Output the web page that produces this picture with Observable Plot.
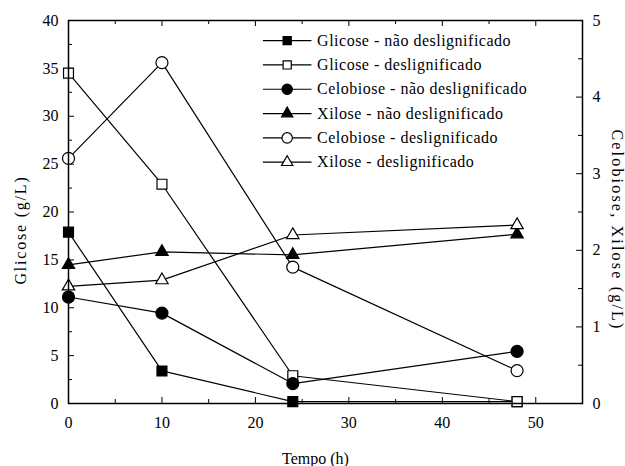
<!DOCTYPE html>
<html><head><meta charset="utf-8">
<script src="https://cdn.jsdelivr.net/npm/d3@7"></script>
<script src="https://cdn.jsdelivr.net/npm/@observablehq/plot@0.6"></script>
<style>
body{margin:0;background:#fff}
</style>
</head><body><div id="chart"></div>
<script>
// ---- data ----
const tempo = [0, 10, 24, 48];                       // Tempo (h)
const glicoseNaoDeslig   = [17.9, 3.4, 0.2, 0.2];    // left axis, g/L
const glicoseDeslig      = [34.5, 22.9, 2.9, 0.2];   // left axis, g/L
const celobioseNaoDeslig = [1.39, 1.18, 0.26, 0.68]; // right axis, g/L
const xiloseNaoDeslig    = [1.81, 1.98, 1.94, 2.21]; // right axis, g/L
const celobioseDeslig    = [3.20, 4.45, 1.78, 0.43]; // right axis, g/L
const xiloseDeslig       = [1.53, 1.61, 2.20, 2.33]; // right axis, g/L
const seriesNames = [
  "Glicose - não deslignificado",
  "Glicose - deslignificado",
  "Celobiose - não deslignificado",
  "Xilose - não deslignificado",
  "Celobiose - deslignificado",
  "Xilose - deslignificado"
];
const xTicks = [0, 10, 20, 30, 40, 50];
const leftTicks = [0, 5, 10, 15, 20, 25, 30, 35, 40];
const rightTicks = [0, 1, 2, 3, 4, 5];
const xLabel = "Tempo (h)";
const yLeftLabel = "Glicose (g/L)";
const yRightLabel = "Celobiose, Xilose (g/L)";

// ---- build ----
const FONT = "Liberation Serif";
const RATIO = 40 / 5; // right axis 5 ↔ left axis 40
const series = [
  {name: seriesNames[0], values: glicoseNaoDeslig, axis: "left", symbol: "square", fill: "black"},
  {name: seriesNames[1], values: glicoseDeslig, axis: "left", symbol: "square", fill: "white"},
  {name: seriesNames[2], values: celobioseNaoDeslig, axis: "right", symbol: "circle", fill: "black"},
  {name: seriesNames[3], values: xiloseNaoDeslig, axis: "right", symbol: "triangle", fill: "black"},
  {name: seriesNames[4], values: celobioseDeslig, axis: "right", symbol: "circle", fill: "white"},
  {name: seriesNames[5], values: xiloseDeslig, axis: "right", symbol: "triangle", fill: "white"}
];
const rows = series.flatMap(s => s.values.map((v, i) => ({
  serie: s.name, x: tempo[i], y: s.axis === "right" ? v * RATIO : v
})));

const W = 625, H = 466, mL = 68, mR = 43, mT = 20, mB = 63;
const pw = W - mL - mR, ph = H - mT - mB;
const xMinor = d3.range(5, 55, 10);
const leftMinor = d3.range(2.5, 40, 5);
const rightMajorL = rightTicks.map(v => v * RATIO);
const rightMinorL = d3.range(0.5, 5, 1).map(v => v * RATIO);

// legend layout (data units)
const legX1 = 20.8, legX2 = 26.0, legXm = 23.4, legXt = 26.6;
const legY0 = 37.9, legStep = 2.54;
const legend = series.map((s, i) => ({...s, y: legY0 - i * legStep}));

const rPlot = s => s.symbol === "square" ? 5.6 : s.symbol === "circle" ? 6 : 4.6;
const rLeg = s => s.symbol === "square" ? 4.6 : s.symbol === "circle" ? 5.2 : 4.2;

const marks = [
  // inward ticks on all four sides
  Plot.tickX(xTicks, {x: d => d, insetTop: ph - 6, stroke: "black"}),
  Plot.tickX(xMinor, {x: d => d, insetTop: ph - 4, stroke: "black"}),
  Plot.tickX(xTicks, {x: d => d, insetBottom: ph - 6, stroke: "black"}),
  Plot.tickX(xMinor, {x: d => d, insetBottom: ph - 4, stroke: "black"}),
  Plot.tickY(leftTicks, {y: d => d, insetRight: pw - 6, stroke: "black"}),
  Plot.tickY(leftMinor, {y: d => d, insetRight: pw - 4, stroke: "black"}),
  Plot.tickY(rightMajorL, {y: d => d, insetLeft: pw - 6, stroke: "black"}),
  Plot.tickY(rightMinorL, {y: d => d, insetLeft: pw - 4, stroke: "black"}),
  // tick labels
  Plot.axisX({ticks: xTicks, tickSize: 0, tickPadding: 13, fontSize: 16, fontFamily: FONT, label: null}),
  Plot.axisY({anchor: "left", ticks: leftTicks, tickSize: 0, tickPadding: 10, fontSize: 16, fontFamily: FONT, label: null}),
  Plot.axisY({anchor: "right", ticks: rightMajorL, tickFormat: d => d / RATIO, tickSize: 0, tickPadding: 10, fontSize: 16, fontFamily: FONT, label: null}),
  // data
  Plot.line(rows, {x: "x", y: "y", z: "serie", stroke: "black", strokeWidth: 1.2}),
  ...series.map(s => Plot.dot(rows.filter(r => r.serie === s.name), {
    x: "x", y: "y", symbol: s.symbol, r: rPlot(s),
    fill: s.fill, stroke: "black", strokeWidth: 1.2
  })),
  // legend
  Plot.link(legend, {x1: () => legX1, x2: () => legX2, y1: "y", y2: "y", stroke: "black", strokeWidth: 1.2}),
  ...legend.map(s => Plot.dot([s], {
    x: () => legXm, y: "y", symbol: s.symbol, r: rLeg(s),
    fill: s.fill, stroke: "black", strokeWidth: 1.2
  })),
  Plot.text(legend, {x: () => legXt, y: "y", text: "name", textAnchor: "start", fontSize: 16, fontFamily: FONT, fill: "black"}),
  // axis titles
  Plot.text([xLabel], {frameAnchor: "bottom", textAnchor: "middle", dx: -10, dy: 60, text: d => d, fontSize: 16, fontFamily: FONT, fill: "black"}),
  Plot.text([yLeftLabel], {frameAnchor: "left", textAnchor: "middle", dx: -48, dy: 18, rotate: -90, text: d => d, fontSize: 16, fontFamily: FONT, fill: "black"}),
  Plot.text([yRightLabel], {frameAnchor: "right", textAnchor: "middle", dx: 35, dy: 18, rotate: 90, text: d => d, fontSize: 16, fontFamily: FONT, fill: "black"}),
  Plot.frame({stroke: "black", strokeWidth: 1.5})
];

const chart = Plot.plot({
  width: W, height: H,
  marginLeft: mL, marginRight: mR, marginTop: mT, marginBottom: mB,
  x: {domain: [0, 55]},
  y: {domain: [0, 40]},
  style: {fontFamily: FONT, fontSize: "16px", color: "black", background: "white"},
  marks
});
document.getElementById("chart").appendChild(chart);
const legendSet = new Set(seriesNames);
d3.select(chart).selectAll("text").each(function() {
  const t = this.textContent;
  if (t === yLeftLabel) this.setAttribute("letter-spacing", "1.8");
  if (t === yRightLabel) this.setAttribute("letter-spacing", "2.2");
  if (legendSet.has(t)) this.setAttribute("letter-spacing", "0.5");
});
</script>
</body></html>
